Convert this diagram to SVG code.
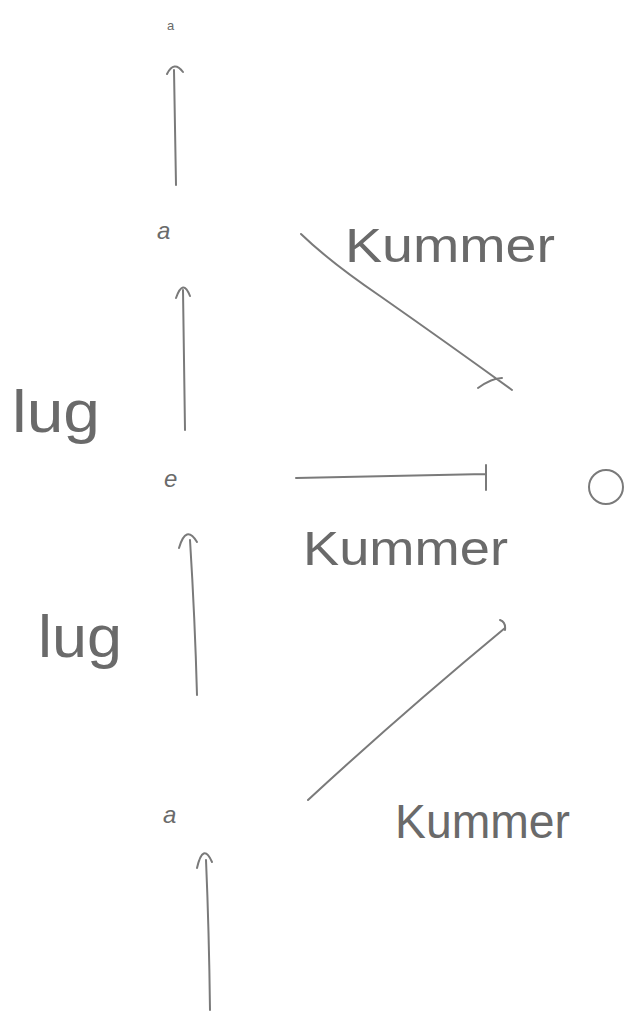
<svg xmlns="http://www.w3.org/2000/svg" width="641" height="1018" viewBox="0 0 641 1018">
<style>
.ln{fill:none;stroke:#7a7a7a;stroke-width:2;stroke-linecap:round;stroke-linejoin:round}
.lbl{font-family:"Liberation Sans",Arial,sans-serif;fill:#6a6a6a}
.big{font-size:48px}
.lug{font-size:60px}
.sm{font-size:24px;font-style:italic}
</style>
<rect width="641" height="1018" fill="#ffffff"/>
<g id="node-a-top"><text class="lbl" x="167" y="30" style="font-size:13px">a</text></g>
<g id="node-a"><text class="lbl sm" x="157" y="239">a</text></g>
<g id="node-e"><text class="lbl sm" x="164" y="487">e</text></g>
<g id="node-a-bottom"><text class="lbl sm" x="163" y="823">a</text></g>
<g id="node-circle"><circle cx="606" cy="487" r="17" class="ln"/></g>
<g id="labels">
<text class="lbl big" x="345" y="262" textLength="210" lengthAdjust="spacingAndGlyphs">Kummer</text>
<text class="lbl big" x="303" y="565" textLength="205" lengthAdjust="spacingAndGlyphs">Kummer</text>
<text class="lbl big" x="395" y="838" textLength="175" lengthAdjust="spacingAndGlyphs">Kummer</text>
<text class="lbl lug" x="12" y="432" textLength="88" lengthAdjust="spacingAndGlyphs">lug</text>
<text class="lbl lug" x="38" y="657" textLength="84" lengthAdjust="spacingAndGlyphs">lug</text>
</g>
<g id="connectors">
<path class="ln" d="M176 185 Q175 120 174 70 M167 74 Q174 60 183 72"/>
<path class="ln" d="M185 430 Q184 360 183 290 M176 298 Q183 278 190 296"/>
<path class="ln" d="M197 695 Q195 620 190 540 M179 548 Q186 524 197 542"/>
<path class="ln" d="M210 1010 Q209 930 206 860 M197 868 Q203 842 212 862"/>
<path class="ln" d="M301 234 Q330 262 380 296 Q450 345 512 390 M478 388 Q492 378 502 378"/>
<path class="ln" d="M296 478 L486 474 M486 465 L486 490"/>
<path class="ln" d="M308 800 Q400 715 505 628 M500 620 Q506 622 505 630"/>
</g>
</svg>
